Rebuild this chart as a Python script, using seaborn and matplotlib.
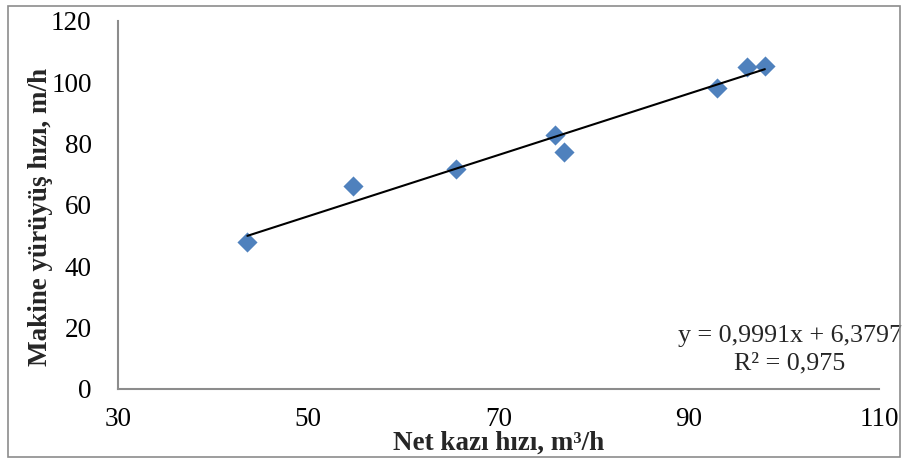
import matplotlib
matplotlib.use("Agg")
import matplotlib.pyplot as plt
import seaborn as sns
import numpy as np
import pandas as pd
from matplotlib.patches import Rectangle

# Data
net_kazi = [43.6, 54.7, 65.5, 75.9, 76.9, 93.0, 96.1, 98.0]
yuruyus = [47.8, 66.2, 71.9, 82.7, 77.3, 98.2, 105.1, 105.3]
slope = 0.9991
intercept = 6.3797
eq_label = "y = 0,9991x + 6,3797\nR² = 0,975"
x_ticks = [30, 50, 70, 90, 110]
y_ticks = [0, 20, 40, 60, 80, 100, 120]
x_label = "Net kazı hızı, m³/h"
y_label = "Makine yürüyüş hızı, m/h"

df = pd.DataFrame({"x": net_kazi, "y": yuruyus})
x_fit = np.array([min(net_kazi), max(net_kazi)])
fit_df = pd.DataFrame({"x": x_fit, "y": slope * x_fit + intercept})

sns.set_style("white")
plt.rcParams["font.family"] = ["Liberation Serif", "DejaVu Serif"]

fig = plt.figure(figsize=(9.06, 4.59), dpi=100)
ax = fig.add_axes([118/906, 1 - 389/459, (879-118)/906, (389-21)/459])

sns.scatterplot(data=df, x="x", y="y", marker="D", s=105, color="#4F81BD",
                linewidth=0, ax=ax, zorder=3)
sns.lineplot(data=fit_df, x="x", y="y", color="black", linewidth=1.5, ax=ax, zorder=4)

ax.set_xlim(30, 110)
ax.set_ylim(0, 120)
ax.set_xticks(x_ticks)
ax.set_yticks(y_ticks)
ax.tick_params(axis="both", length=0, labelsize=19.5, colors="black")
ax.tick_params(axis="x", pad=13)
ax.tick_params(axis="y", pad=19)

for s in ["top", "right"]:
    ax.spines[s].set_visible(False)
for s in ["left", "bottom"]:
    ax.spines[s].set_color("#8c8c8c")
    ax.spines[s].set_linewidth(1.5)

ax.set_xlabel(x_label, fontsize=19.5, fontweight="bold")
ax.set_ylabel(y_label, fontsize=19.5, fontweight="bold")
ax.xaxis.set_label_coords(0.5, -0.113)
ax.yaxis.set_label_coords(-0.085, 0.468)

ax.text(0.883, 0.106, eq_label, transform=ax.transAxes, ha="center", va="center",
        fontsize=18.7, linespacing=1.3)

fig.patches.append(Rectangle((8/906, 1 - 457/459), (900-8)/906, (457-6)/459,
                             transform=fig.transFigure, fill=False,
                             edgecolor="#8c8c8c", linewidth=1.2))

fig.savefig("out.png", dpi=100)
